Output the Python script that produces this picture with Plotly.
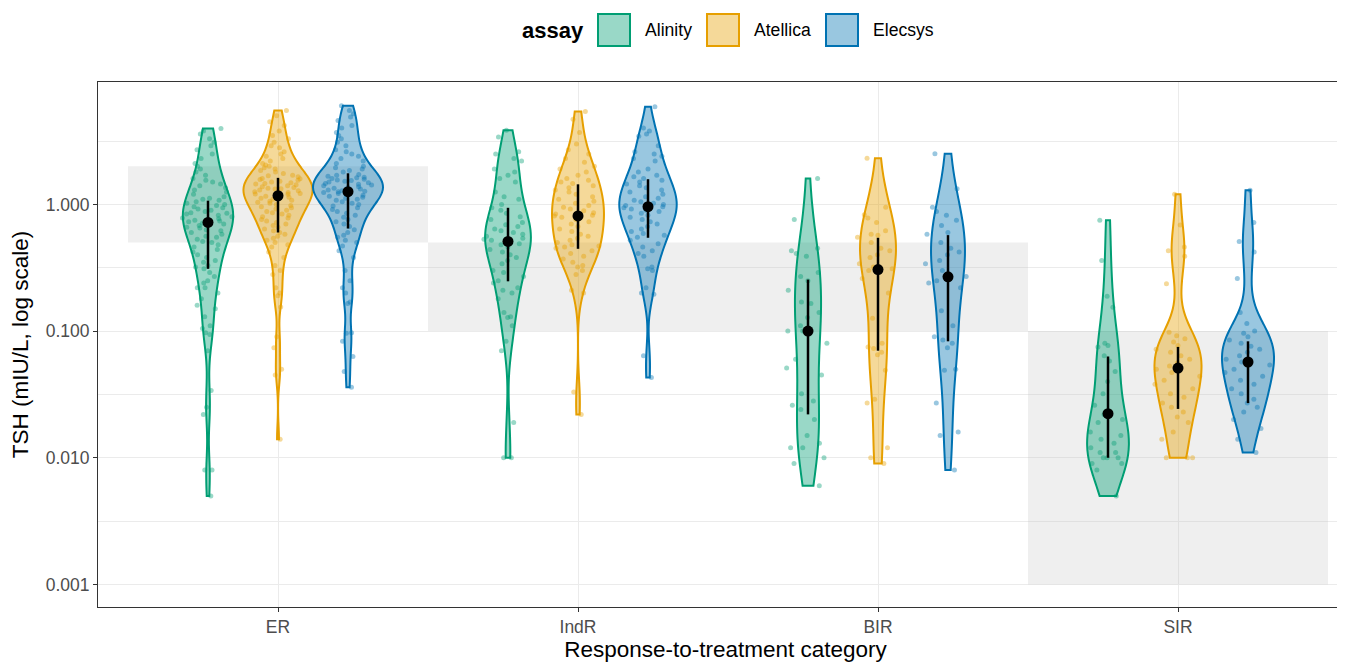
import numpy as np
import plotly.graph_objects as go

categories = ["ER", "IndR", "BIR", "SIR"]
assays = ["Alinity", "Atellica", "Elecsys"]

# ---- TSH values (mIU/L) ----
alinity_ER = [3.97, 3.8, 3.6, 3.3, 3.1, 2.9, 2.7, 2.5, 2.3, 2.1, 2.0, 1.9,
              1.8, 1.7, 1.6, 1.55, 1.5, 1.45, 1.4, 1.35, 1.3, 1.25, 1.2,
              1.15, 1.12, 1.1, 1.08, 1.05, 1.02, 1.0, 0.98, 0.96, 0.94, 0.92, 0.9,
              0.88, 0.86, 0.85, 0.84, 0.82, 0.8, 0.78, 0.77, 0.76, 0.75, 0.74, 0.73,
              0.71, 0.7, 0.68, 0.66, 0.65, 0.63, 0.62, 0.6, 0.58, 0.56, 0.55, 0.53,
              0.51, 0.5, 0.48, 0.46,
              0.44, 0.42, 0.4, 0.38, 0.36, 0.35, 0.33, 0.32, 0.31,
              0.29, 0.27, 0.25, 0.24, 0.22, 0.22, 0.2, 0.18, 0.16, 0.15, 0.13, 0.11, 0.105,
              0.097, 0.094, 0.07, 0.034, 0.025, 0.022, 0.008, 0.008, 0.005]
atellica_ER = [5.5, 5.0, 4.5, 4.2, 3.8, 3.5, 3.3, 3.1, 2.9, 2.8, 2.6, 2.5, 2.4, 2.3, 2.2,
               2.1, 2.05, 2.0, 1.95, 1.9, 1.85, 1.8, 1.75, 1.7, 1.68, 1.65,
               1.6, 1.59, 1.57, 1.55, 1.52, 1.5, 1.48, 1.46, 1.45, 1.43, 1.4, 1.38, 1.36,
               1.34, 1.33, 1.32, 1.3, 1.28, 1.26, 1.24, 1.22, 1.21, 1.2, 1.19,
               1.16, 1.14, 1.12, 1.1, 1.08, 1.06, 1.04, 1.02, 1.0, 0.98, 0.96, 0.94, 0.92,
               0.9, 0.88, 0.86, 0.84, 0.82, 0.8, 0.78, 0.76, 0.74, 0.72, 0.7, 0.68,
               0.66, 0.64, 0.62, 0.6, 0.58, 0.56, 0.54, 0.52, 0.5, 0.48, 0.46,
               0.42, 0.38, 0.33, 0.3, 0.28, 0.22, 0.2, 0.19, 0.155,
               0.09, 0.074, 0.05, 0.045, 0.014]
elecsys_ER = [6.0, 5.5, 5.2, 4.9, 4.6, 4.2, 4.0, 3.7, 3.5, 3.3, 3.1, 2.9, 2.7, 2.6, 2.5,
              2.4, 2.3, 2.2, 2.1, 2.0, 1.95, 1.9, 1.85, 1.8,
              1.72, 1.7, 1.67, 1.64, 1.62, 1.6, 1.58, 1.56, 1.54, 1.52, 1.5, 1.48, 1.46,
              1.44, 1.42, 1.4, 1.38, 1.36, 1.34, 1.32, 1.3, 1.28, 1.27, 1.26,
              1.24, 1.22, 1.2, 1.18, 1.16, 1.14, 1.12, 1.1, 1.08, 1.05, 1.02, 1.0, 0.97,
              0.94, 0.91, 0.88, 0.85, 0.82, 0.79, 0.76, 0.73, 0.7, 0.67,
              0.63, 0.6, 0.57, 0.55, 0.52, 0.5, 0.47,
              0.43, 0.38, 0.3, 0.25, 0.22, 0.2, 0.17, 0.165,
              0.097, 0.096, 0.083, 0.063, 0.048, 0.036]

alinity_IndR = [3.85, 3.4, 2.6, 2.5, 2.3, 2.2, 1.9, 1.8, 1.7, 1.6, 1.5, 1.25, 1.15, 1.1, 1.0,
                0.94, 0.9, 0.85, 0.8, 0.76, 0.72, 0.69, 0.67, 0.64, 0.62, 0.6, 0.58, 0.56,
                0.54, 0.53, 0.52,
                0.5, 0.49, 0.48, 0.46, 0.44, 0.42, 0.4, 0.38, 0.36, 0.34, 0.22, 0.21, 0.3,
                0.29, 0.27, 0.25,
                0.24, 0.2, 0.18, 0.14, 0.13, 0.128, 0.11, 0.083, 0.07, 0.019, 0.01, 0.01]
atellica_IndR = [5.4, 4.7, 3.7, 3.0, 2.7, 2.5, 2.3, 2.15, 2.0, 1.9, 1.8, 1.7, 1.6, 1.55, 1.5, 1.46,
                 1.4, 1.35, 1.3, 1.25, 1.2, 1.15, 1.1, 1.06, 1.02, 0.98, 0.95, 0.92, 0.89,
                 0.86, 0.84, 0.82, 0.81,
                 0.79, 0.76, 0.73, 0.7, 0.67, 0.64, 0.61, 0.58, 0.56, 0.54, 0.52, 0.5, 0.48,
                 0.47, 0.46, 0.45,
                 0.43, 0.41, 0.39, 0.37, 0.35, 0.33, 0.32, 0.3, 0.28, 0.21, 0.2, 0.033, 0.022]
elecsys_IndR = [5.9, 4.0, 3.8, 3.6, 3.45, 2.9, 2.6, 2.5, 2.4, 2.3, 2.2, 1.9, 1.8, 1.7, 1.65, 1.6,
                1.55, 1.5, 1.45, 1.4, 1.35, 1.3, 1.25, 1.2, 1.15, 1.12, 1.08, 1.05, 1.02, 1.0,
                0.98, 0.96,
                0.94, 0.92, 0.9, 0.88, 0.85, 0.82, 0.79, 0.76, 0.73, 0.7, 0.67, 0.64, 0.61,
                0.59, 0.57, 0.55,
                0.52, 0.49, 0.46, 0.43, 0.41, 0.39, 0.32, 0.31, 0.3, 0.22, 0.2, 0.195,
                0.064, 0.043]

alinity_BIR = [1.6, 0.76, 0.45, 0.43, 0.41, 0.39, 0.29, 0.27, 0.25, 0.21, 0.17, 0.165, 0.14,
               0.128, 0.11, 0.1, 0.1, 0.08, 0.06, 0.051, 0.045, 0.032, 0.028, 0.026, 0.024,
               0.02, 0.015, 0.013, 0.012, 0.012, 0.01, 0.009, 0.006]
atellica_BIR = [2.31, 0.95, 0.83, 0.78, 0.72, 0.62, 0.58, 0.57, 0.55, 0.5, 0.45, 0.43, 0.4,
                0.38, 0.34, 0.32, 0.31, 0.3, 0.26, 0.2, 0.126, 0.08, 0.075, 0.073, 0.068,
                0.065, 0.049, 0.029, 0.027, 0.012, 0.01, 0.009]
elecsys_BIR = [2.51, 1.33, 0.95, 0.88, 0.82, 0.75, 0.68, 0.6, 0.58, 0.5, 0.45, 0.42, 0.4,
               0.36, 0.34, 0.3, 0.27, 0.25, 0.24, 0.22, 0.145, 0.11, 0.09, 0.085, 0.08,
               0.074, 0.05, 0.049, 0.027, 0.016, 0.015, 0.008]

alinity_SIR = [0.75, 0.36, 0.188, 0.154, 0.08, 0.077, 0.075, 0.064, 0.058, 0.048, 0.04,
               0.032, 0.026, 0.022, 0.02, 0.019, 0.016, 0.015, 0.014, 0.013, 0.012, 0.011,
               0.011, 0.01, 0.01, 0.01, 0.009, 0.009, 0.008, 0.005]
atellica_SIR = [1.2, 0.686, 0.46, 0.43, 0.39, 0.236, 0.098, 0.092, 0.087, 0.082, 0.077, 0.072,
                0.068, 0.064, 0.06, 0.056, 0.053, 0.05, 0.047, 0.044, 0.041, 0.038, 0.035,
                0.032, 0.03, 0.027, 0.025, 0.023, 0.021, 0.019, 0.016, 0.014, 0.01, 0.01, 0.01]
elecsys_SIR = [1.29, 0.72, 0.51, 0.42, 0.26, 0.14, 0.115, 0.1, 0.096, 0.09, 0.085, 0.08,
               0.076, 0.072, 0.068, 0.064, 0.06, 0.057, 0.054, 0.05, 0.047, 0.044, 0.041,
               0.038, 0.035, 0.032, 0.029, 0.027, 0.025, 0.023, 0.02, 0.017, 0.014, 0.011]

# summary: centre point and bar (per category ER, IndR, BIR, SIR)
median_alinity = [0.72, 0.51, 0.100, 0.0223]
median_atellica = [1.17, 0.81, 0.306, 0.051]
median_elecsys = [1.26, 0.96, 0.268, 0.057]
low_alinity = [0.31, 0.247, 0.022, 0.010]
low_atellica = [0.60, 0.446, 0.070, 0.0243]
low_elecsys = [0.645, 0.545, 0.083, 0.027]
high_alinity = [1.07, 0.94, 0.255, 0.063]
high_atellica = [1.62, 1.44, 0.545, 0.075]
high_elecsys = [1.76, 1.58, 0.572, 0.083]

# target TSH ranges per category (grey bands)
target_low = [0.5, 0.1, 0.1, 0.001]
target_high = [2.0, 0.5, 0.5, 0.1]

y_tickvals = [0.001, 0.01, 0.1, 1.0]
y_ticktext = ["0.001", "0.010", "0.100", "1.000"]

raw = {
    "Alinity": [alinity_ER, alinity_IndR, alinity_BIR, alinity_SIR],
    "Atellica": [atellica_ER, atellica_IndR, atellica_BIR, atellica_SIR],
    "Elecsys": [elecsys_ER, elecsys_IndR, elecsys_BIR, elecsys_SIR],
}
medians = {"Alinity": median_alinity, "Atellica": median_atellica, "Elecsys": median_elecsys}
lows = {"Alinity": low_alinity, "Atellica": low_atellica, "Elecsys": low_elecsys}
highs = {"Alinity": high_alinity, "Atellica": high_atellica, "Elecsys": high_elecsys}

line_col = {"Alinity": "#009E73", "Atellica": "#E69F00", "Elecsys": "#0072B2"}
fill_col = {"Alinity": "rgba(0,158,115,0.4)", "Atellica": "rgba(230,159,0,0.4)",
            "Elecsys": "rgba(0,114,178,0.4)"}

FONT = "Liberation Sans, Arial, sans-serif"

# figure geometry (the page adds an 8px body margin); panel runs past the right edge
W, H = 1345, 654
ML, MR, MT, MB = 90, 0, 74, 55
PW, PH = W - ML - MR, H - MT - MB
X_RANGE = [-0.6, -0.6 + PW / 300.0]


def px_x(fx):
    return (fx - ML) / PW


def px_y(fy):
    return 1 - (fy - MT) / PH


def nrd0(v):
    # R's default bandwidth (bw.nrd0), as used by ggplot's geom_violin
    v = np.asarray(v)
    q75, q25 = np.percentile(v, [75, 25])
    lo = min(np.std(v, ddof=1), (q75 - q25) / 1.34)
    return 0.9 * lo * len(v) ** -0.2


fig = go.Figure()

for a in assays:
    for c, vals in zip(categories, raw[a]):
        lv = np.log10(vals)
        fig.add_trace(go.Violin(
            x=[c] * len(vals), y=lv, name=a, legendgroup=a,
            offsetgroup=a, alignmentgroup="all",
            bandwidth=nrd0(lv),
            line=dict(color=line_col[a], width=2), fillcolor=fill_col[a],
            spanmode="hard", scalemode="width", scalegroup="all",
            points="all", jitter=0.75, pointpos=0,
            marker=dict(color=line_col[a], size=5, opacity=0.4, line=dict(width=0)),
            box_visible=False, meanline_visible=False, hoverinfo="skip", showlegend=False,
        ))

for a in assays:
    m = np.log10(medians[a])
    lo = np.log10(lows[a])
    hi = np.log10(highs[a])
    fig.add_trace(go.Scatter(
        x=categories, y=m, mode="markers", offsetgroup=a, alignmentgroup="all",
        showlegend=False,
        marker=dict(color="black", size=11),
        error_y=dict(type="data", symmetric=False, array=hi - m, arrayminus=m - lo,
                     color="black", thickness=2.5, width=0),
        hoverinfo="skip",
    ))

for i, (lo, hi) in enumerate(zip(target_low, target_high)):
    fig.add_shape(type="rect", xref="x", yref="y", x0=i - 0.5, x1=i + 0.5,
                  y0=np.log10(lo), y1=np.log10(hi), line=dict(width=0),
                  fillcolor="rgba(190,190,190,0.25)", layer="between")

# custom legend (ggplot-like large keys)
leg_y = 22
fig.add_annotation(text="<b>assay</b>", xref="paper", yref="paper", x=px_x(512), y=px_y(leg_y),
                   xanchor="left", yanchor="middle", showarrow=False,
                   font=dict(size=22, color="black", family=FONT))
key_left = {"Alinity": 589, "Atellica": 698, "Elecsys": 817}
for a in assays:
    k = key_left[a]
    fig.add_shape(type="rect", xref="paper", yref="paper",
                  x0=px_x(k + 1), x1=px_x(k + 33), y0=px_y(leg_y - 16), y1=px_y(leg_y + 16),
                  fillcolor=fill_col[a], line=dict(color=line_col[a], width=2))
    fig.add_annotation(text=a, xref="paper", yref="paper", x=px_x(k + 46), y=px_y(leg_y),
                       xanchor="left", yanchor="middle", showarrow=False,
                       font=dict(size=17.6, color="black", family=FONT))

fig.update_layout(
    width=W, height=H,
    margin=dict(l=ML, r=MR, t=MT, b=MB),
    paper_bgcolor="white", plot_bgcolor="white",
    font=dict(family=FONT, color="#4D4D4D"),
    violinmode="group", violingap=0.3, violingroupgap=0,
    scattermode="group", scattergap=0.3,
    showlegend=False,
)
fig.update_xaxes(
    type="category", categoryorder="array", categoryarray=categories,
    range=X_RANGE,
    showgrid=True, gridcolor="#EBEBEB", gridwidth=1.1,
    showline=True, mirror=True, linecolor="#333333", linewidth=1,
    ticks="outside", ticklen=4, tickcolor="#333333",
    tickfont=dict(size=17.5, color="#4D4D4D"),
    title=dict(text="Response-to-treatment category", font=dict(size=22.5, color="black"),
               standoff=4),
    zeroline=False, automargin=False,
)
fig.update_yaxes(
    range=[-3.178, 0.966],
    tickvals=list(np.log10(y_tickvals)), ticktext=y_ticktext,
    showgrid=True, gridcolor="#EBEBEB", gridwidth=1.1,
    minor=dict(tickvals=[-2.5, -1.5, -0.5, 0.5], showgrid=True, gridcolor="#EBEBEB",
               gridwidth=0.6, ticks=""),
    showline=True, mirror=True, linecolor="#333333", linewidth=1,
    ticks="outside", ticklen=4, tickcolor="#333333",
    tickfont=dict(size=17.5, color="#4D4D4D"),
    title=dict(text="TSH (mIU/L, log scale)", font=dict(size=22.5, color="black"),
               standoff=10),
    zeroline=False, automargin=False,
)

fig.write_html("out.html")
